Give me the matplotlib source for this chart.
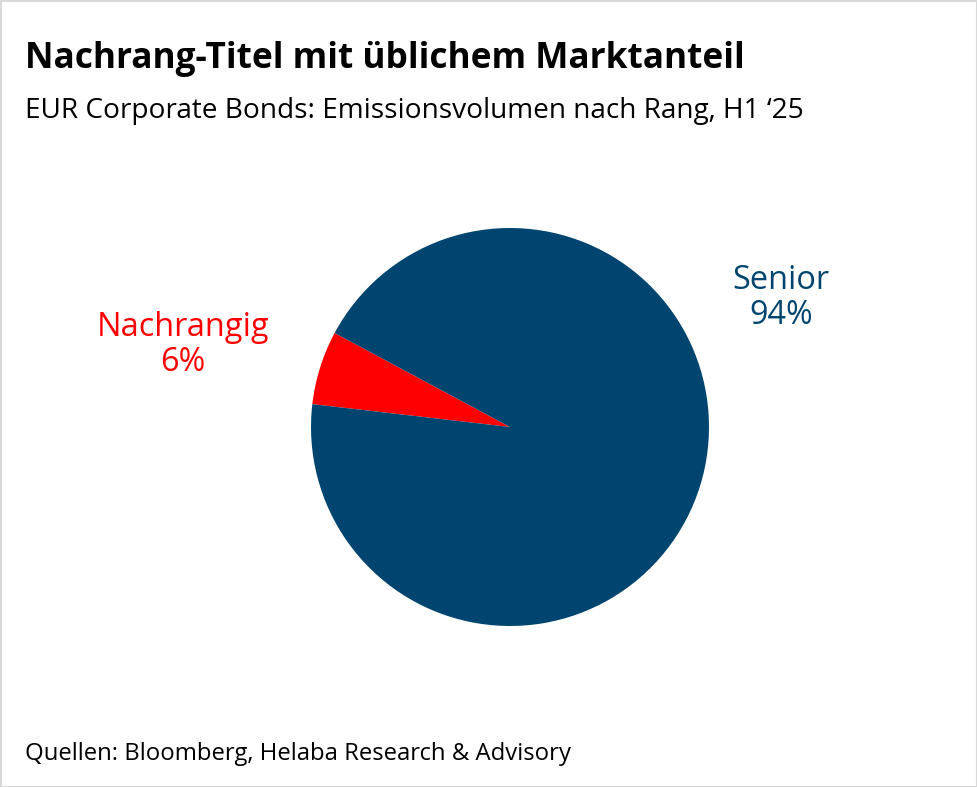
import matplotlib.pyplot as plt
from matplotlib.patches import Rectangle

labels = ["Nachrangig", "Senior"]
shares = [6, 94]
colors = ["#ff0000", "#004570"]

W, H = 977, 787
fig = plt.figure(figsize=(W / 100, H / 100), dpi=100)
plt.rcParams["font.family"] = ["Open Sans", "Noto Sans", "DejaVu Sans"]

fig.patches.append(Rectangle((0.5 / W, 0.5 / H), 1 - 1 / W, 1 - 1 / H, transform=fig.transFigure,
                             fill=False, edgecolor="#d9d9d9", linewidth=1.5))

fig.text(25 / W, 1 - 68 / H, "Nachrang-Titel mit üblichem Marktanteil",
         fontsize=25.4, fontweight="bold", color="black", va="baseline")
fig.text(25 / W, 1 - 118 / H, "EUR Corporate Bonds: Emissionsvolumen nach Rang, H1 \u201825",
         fontsize=20.2, color="black", va="baseline")
fig.text(25 / W, 1 - 760 / H, "Quellen: Bloomberg, Helaba Research & Advisory",
         fontsize=17.2, color="black", va="baseline")

cx, cy, r = 510, 427, 199
ax = fig.add_axes([(cx - r) / W, (H - cy - r) / H, 2 * r / W, 2 * r / H])
ax.pie(shares, colors=colors, startangle=151.8, counterclock=True,
       wedgeprops=dict(linewidth=0))
ax.set_xlim(-1, 1)
ax.set_ylim(-1, 1)
ax.axis("off")

fig.text(183 / W, 1 - 345 / H, f"{labels[0]}\n{shares[0]}%", ha="center", va="center",
         fontsize=23.4, color=colors[0], linespacing=1.05)
fig.text(781 / W, 1 - 298 / H, f"{labels[1]}\n{shares[1]}%", ha="center", va="center",
         fontsize=23.4, color=colors[1], linespacing=1.05)

fig.savefig("out.png", dpi=100)
